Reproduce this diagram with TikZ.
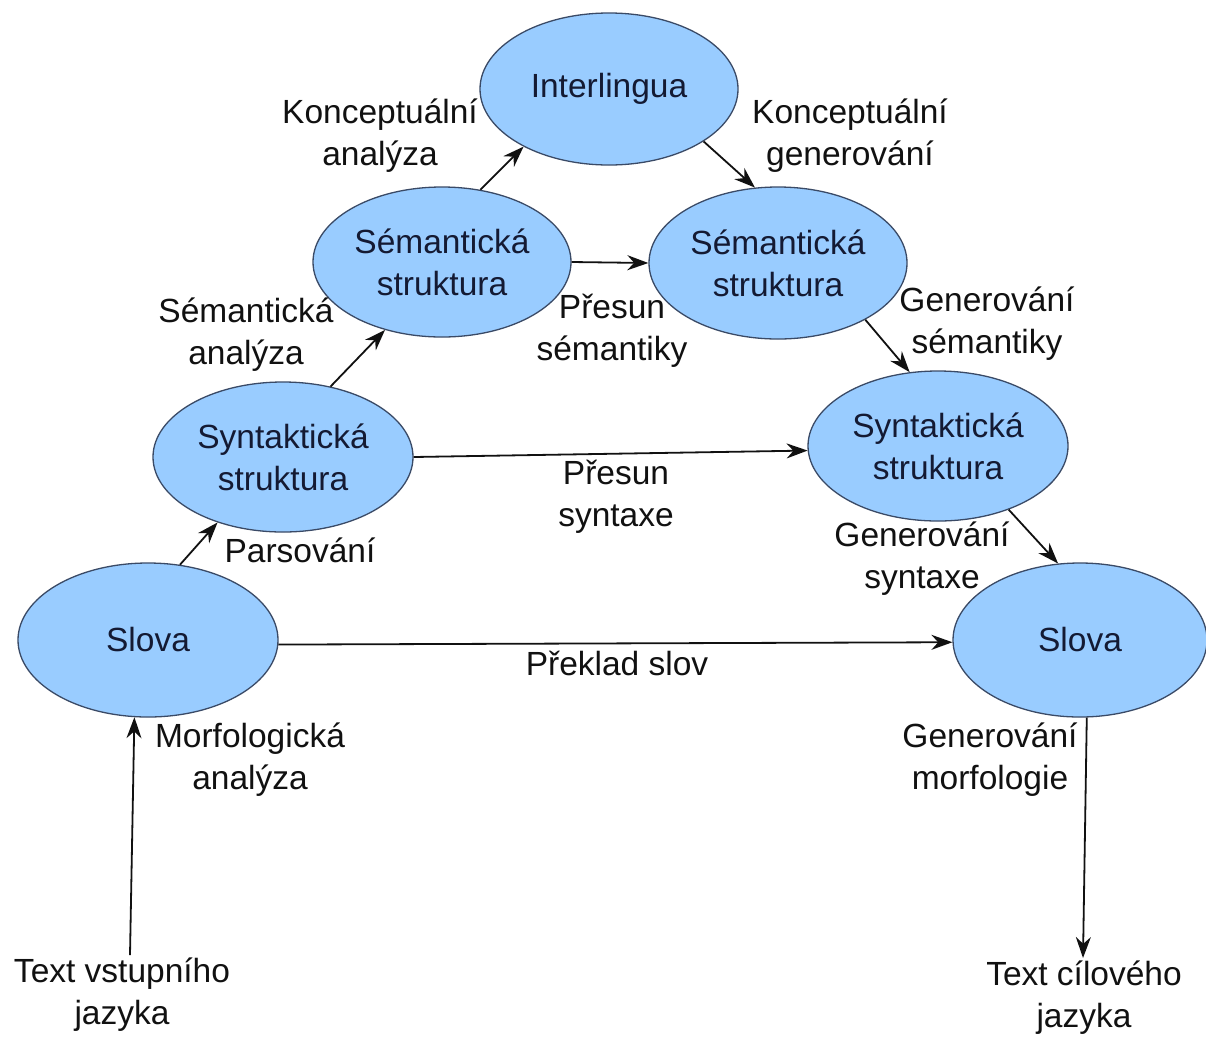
\documentclass[tikz,border=0pt]{standalone}
\usepackage{fontspec}
\setmainfont{Liberation Sans}
\usetikzlibrary{shapes.geometric,arrows.meta}
\definecolor{efill}{HTML}{99CCFF}
\definecolor{edraw}{HTML}{3A4A66}
\definecolor{etext}{HTML}{141A33}
\definecolor{ltext}{HTML}{111111}
\begin{document}
\begin{tikzpicture}[x=1pt,y=-1pt,
  bub/.style={ellipse,fill=efill,draw=edraw,line width=1.3pt,inner sep=0pt,align=center,text=etext,
    font=\fontsize{33.5}{42}\selectfont},
  lab/.style={align=center,text=ltext,inner sep=0pt,font=\fontsize{33.5}{42}\selectfont},
  arr/.style={line width=1.8pt,draw=ltext,-{Stealth[length=21pt,width=15pt]}}]
\useasboundingbox (0,0) rectangle (1206,1037);
\fill[white] (0,0) rectangle (1206,1037);
% nodes
\node[bub,minimum width=258pt,minimum height=152pt] (IL) at (609,89) {Interlingua};
\node[bub,minimum width=258pt,minimum height=150pt] (SL) at (442,262) {Sémantická\\struktura};
\node[bub,minimum width=258pt,minimum height=152pt] (SR) at (778,263) {Sémantická\\struktura};
\node[bub,minimum width=260pt,minimum height=150pt] (YL) at (283,457) {Syntaktická\\struktura};
\node[bub,minimum width=260pt,minimum height=150pt] (YR) at (938,446) {Syntaktická\\struktura};
\node[bub,minimum width=260pt,minimum height=154pt] (WL) at (148,640) {Slova};
\node[bub,minimum width=254pt,minimum height=154pt] (WR) at (1080,640) {Slova};
% free ends
\node[lab] (TIN) at (122,995) {Text vstupního\\jazyka};
\node[lab] (TOUT) at (1084,998) {Text cílového\\jazyka};
\coordinate (inS) at (130,955);
\coordinate (outE) at (1083,958);
% connectors
\draw[arr] (WL.67.7) -- (YL.225.5);
\draw[arr] (YL.56) -- (SL.230.3);
\draw[arr] (SL.62) -- (IL.214.3);
\draw[arr] (IL.-29) -- (SR.107);
\draw[arr] (SL.0) -- (SR.180);
\draw[arr] (SR.-33.4) -- (YR.111);
\draw[arr] (YL.0) -- (YR.182);
\draw[arr] (YR.-42.5) -- (WR.106);
\draw[arr] (WL.-2) -- (WR.181);
\draw[arr] (inS) -- (WL.260.4);
\draw[arr] (WR.275) -- (outE);
% labels
\node[lab] (l1) at (380,136) {Konceptuální\\analýza};
\node[lab] (l2) at (850,136) {Konceptuální\\generování};
\node[lab] (l3) at (246,335) {Sémantická\\analýza};
\node[lab] (l4) at (612,331) {Přesun\\sémantiky};
\node[lab] (l5) at (987,324) {Generování\\sémantiky};
\node[lab] (l6) at (300,550) {Parsování};
\node[lab] (l7) at (616,497) {Přesun\\syntaxe};
\node[lab] (l8) at (922,559) {Generování\\syntaxe};
\node[lab] (l9) at (617,663) {Překlad slov};
\node[lab] (l10) at (250,760) {Morfologická\\analýza};
\node[lab] (l11) at (990,760) {Generování\\morfologie};
\end{tikzpicture}
\end{document}
